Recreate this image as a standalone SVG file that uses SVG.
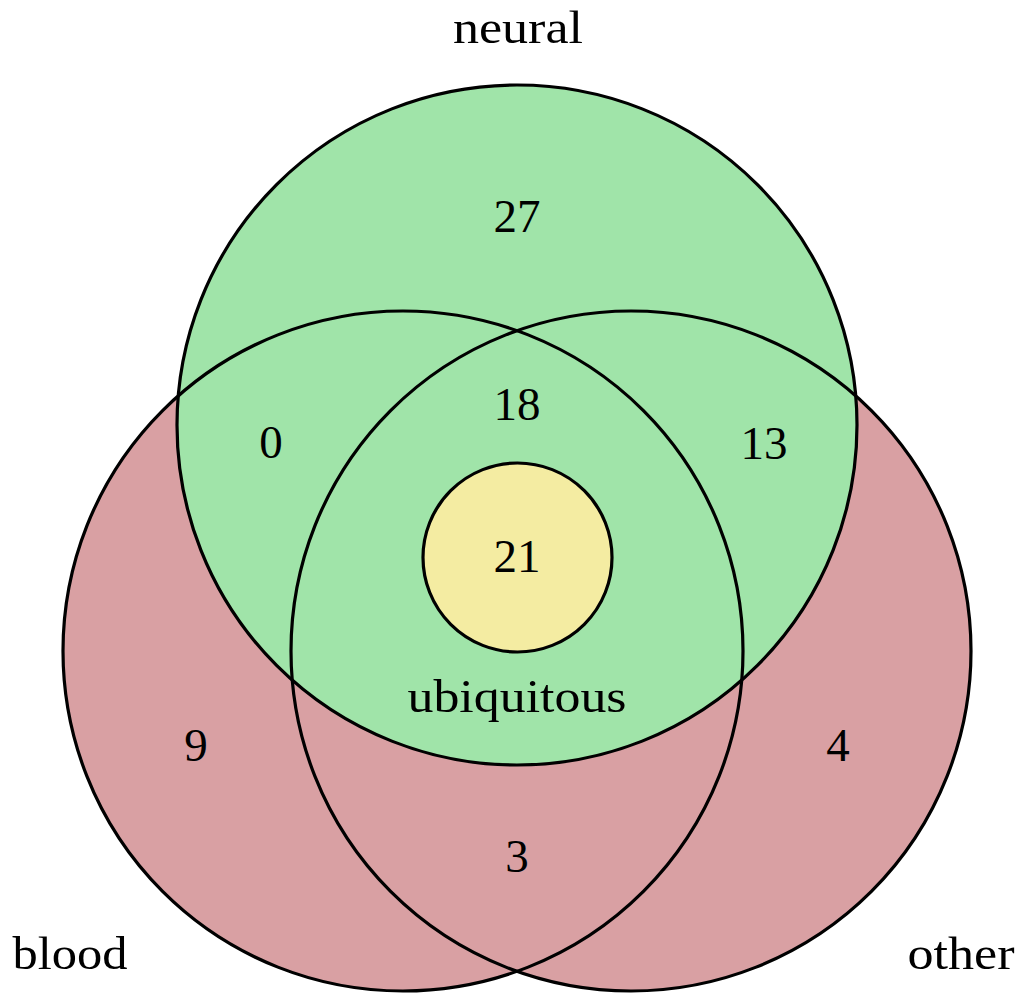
<svg xmlns="http://www.w3.org/2000/svg" width="1022" height="993" viewBox="0 0 1022 993">
<style>
.red{fill:#d9a0a3}
.green{fill:#a0e4a9}
.yellow{fill:#f4eca2;stroke:#000;stroke-width:3.2}
.line{fill:none;stroke:#000;stroke-width:3.2}
text{font-family:"Liberation Serif","Times New Roman",serif;font-size:47px;fill:#000;text-anchor:middle}
</style>
<rect width="1022" height="993" fill="#fff"/>
<g id="blood"><circle class="red" cx="403" cy="651" r="340"/></g>
<g id="other"><circle class="red" cx="631" cy="651" r="340"/></g>
<g id="neural"><circle class="green" cx="517" cy="425" r="340"/></g>
<g id="outlines">
<circle class="line" cx="403" cy="651" r="340"/>
<circle class="line" cx="631" cy="651" r="340"/>
<circle class="line" cx="517" cy="425" r="340"/>
</g>
<g id="ubiquitous"><circle class="yellow" cx="517.5" cy="557.5" r="94.5"/>
<text x="517" y="572">21</text>
<text x="517" y="712" textLength="219" lengthAdjust="spacingAndGlyphs">ubiquitous</text>
</g>
<g id="labels">
<text x="518" y="43" textLength="130" lengthAdjust="spacingAndGlyphs">neural</text>
<text x="70" y="969" textLength="115" lengthAdjust="spacingAndGlyphs">blood</text>
<text x="961" y="969" textLength="107" lengthAdjust="spacingAndGlyphs">other</text>
<text x="517" y="232">27</text>
<text x="517" y="420">18</text>
<text x="271" y="458">0</text>
<text x="764" y="459">13</text>
<text x="196" y="761">9</text>
<text x="838" y="761">4</text>
<text x="517" y="872">3</text>
</g>
</svg>
